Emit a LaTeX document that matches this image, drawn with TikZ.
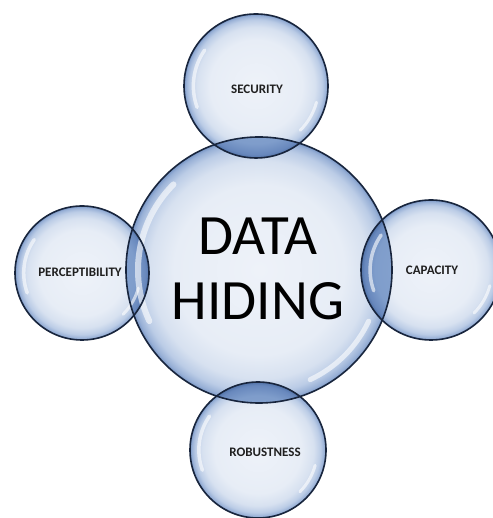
\documentclass[tikz,border=0pt]{standalone}
\usepackage{fontspec}
\setmainfont{Carlito}
\begin{document}
\definecolor{bubA}{HTML}{EEF2F9}
\definecolor{bubB}{HTML}{E7EDF6}
\definecolor{bubC}{HTML}{D7E1F0}
\definecolor{bubD}{HTML}{BBCCE6}
\definecolor{bubE}{HTML}{98B0D6}
\definecolor{bubF}{HTML}{7795C5}
\definecolor{ovA}{HTML}{8CA8D2}
\definecolor{ovB}{HTML}{7F9DCB}
\definecolor{ovC}{HTML}{6888BD}
\definecolor{ovD}{HTML}{5273A8}
\definecolor{rimcol}{HTML}{18253D}
% glassy bubble body: pale centre, blue towards the rim (rim at 25bp)
\pgfdeclareradialshading{bubble}{\pgfpoint{0bp}{0bp}}{%
  color(0bp)=(bubA); color(16bp)=(bubB); color(20.5bp)=(bubC);
  color(23bp)=(bubD); color(24.4bp)=(bubE); color(25bp)=(bubF);
  color(50bp)=(bubF)}
% lens where two bubbles overlap
\pgfdeclareradialshading{lens}{\pgfpoint{0bp}{0bp}}{%
  color(0bp)=(ovA); color(20bp)=(ovB); color(23.8bp)=(ovC);
  color(25bp)=(ovD); color(50bp)=(ovD)}
\begin{tikzpicture}[x=1pt,y=1pt,
  rim/.style={draw=rimcol,line width=1.6pt},
  gloss/.style={white,opacity=0.6,line cap=round},
  satlabel/.style={font=\bfseries\fontsize{13}{15}\selectfont,text=black!88,inner sep=0pt},
  hublabel/.style={font=\fontsize{57}{65}\selectfont,align=center,inner sep=0pt}]
\useasboundingbox[fill=white] (0,0) rectangle (492,518);

% centres of the bubbles
\coordinate (hub) at (259,248);
\coordinate (sec) at (256,432);
\coordinate (per) at (82,245);
\coordinate (cap) at (431,248);
\coordinate (rob) at (258,68);

% bubble bodies
\shade[shading=bubble] (hub) circle (133);
\foreach \c/\r in {sec/72,per/67,cap/70,rob/68}{
  \shade[shading=bubble] (\c) circle (\r);
}

% overlap lenses
\foreach \c/\r in {sec/72,per/67,cap/70,rob/68}{
  \begin{scope}
    \clip (hub) circle (133);
    \shade[shading=lens] (\c) circle (\r);
  \end{scope}
}

% glossy highlights along the inner rims
\draw[gloss,line width=6pt] (hub) ++(135:121) arc (135:205:121);
\draw[gloss,line width=5pt] (hub) ++(-25:121) arc (-25:-65:121);
\foreach \c/\r in {sec/72,per/67,cap/70,rob/68}{
  \draw[gloss,line width=3.5pt] (\c) ++(145:0.87*\r) arc (145:200:0.87*\r);
  \draw[gloss,line width=3pt] (\c) ++(-15:0.87*\r) arc (-15:-45:0.87*\r);
}

% outlines
\draw[rim] (hub) circle (133);
\foreach \c/\r in {sec/72,per/67,cap/70,rob/68}{
  \draw[rim] (\c) circle (\r);
}

% texts
\node[hublabel] (hubtext) at (258,249) {DATA\\HIDING};
\node[satlabel] (sectext) at (257,429) {SECURITY};
\node[satlabel] (pertext) at (80,246) {PERCEPTIBILITY};
\node[satlabel] (captext) at (432,248) {CAPACITY};
\node[satlabel] (robtext) at (265,66) {ROBUSTNESS};
\end{tikzpicture}
\end{document}
